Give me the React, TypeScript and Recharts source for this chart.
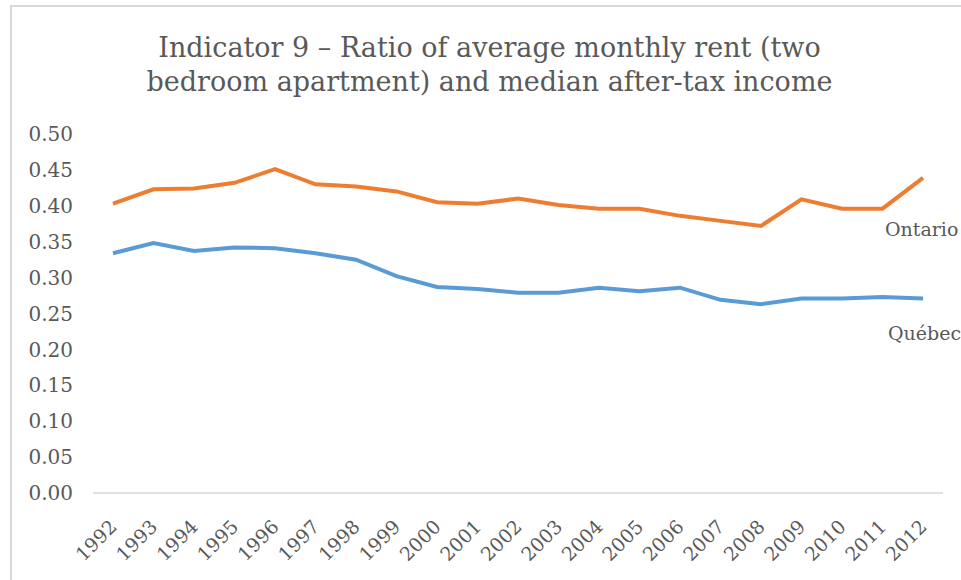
import React from 'react';
import { LineChart, Line, XAxis, YAxis, LabelList } from 'recharts';

const years = ['1992', '1993', '1994', '1995', '1996', '1997', '1998', '1999', '2000', '2001', '2002',
    '2003', '2004', '2005', '2006', '2007', '2008', '2009', '2010', '2011', '2012'];
const ontario = [0.403, 0.423, 0.424, 0.432, 0.451, 0.430, 0.427, 0.420, 0.405, 0.403, 0.410,
    0.401, 0.396, 0.396, 0.386, 0.379, 0.372, 0.409, 0.396, 0.396, 0.439];
const quebec = [0.334, 0.348, 0.337, 0.342, 0.341, 0.334, 0.325, 0.302, 0.287, 0.284, 0.279,
    0.279, 0.286, 0.281, 0.286, 0.269, 0.263, 0.271, 0.271, 0.273, 0.271];
const yTicks = [0, 0.05, 0.1, 0.15, 0.2, 0.25, 0.3, 0.35, 0.4, 0.45, 0.5];

const data = years.map((year, i) => ({ year, ontario: ontario[i], quebec: quebec[i] }));

const FONT = '"DejaVu Serif", serif';
const GREY = '#595959';

const YearTick = (props: any) => {
    const { x, y, payload } = props;
    return (
        <g transform={`translate(${x + 5},${y + 27})`}>
            <text textAnchor="end" transform="rotate(-45)" fill={GREY} fontSize={19} fontFamily={FONT}>
                {payload.value}
            </text>
        </g>
    );
};

// series name drawn only next to the last point, like Excel's data label
const endLabel = (name: string, dx: number, dy: number) => (props: any) => {
    const { x, y, index } = props;
    if (index !== years.length - 1) return null;
    return (
        <text x={x + dx} y={y + dy} fill={GREY} fontSize={19} fontFamily={FONT}>
            {name}
        </text>
    );
};

export default function App() {
    return (
        <div style={{ position: 'absolute', left: 0, top: 0, width: 961, height: 580, background: '#fff', overflow: 'hidden' }}>
            <div style={{
                position: 'absolute', left: 10, top: 5, right: -4, bottom: -4,
                borderLeft: '2px solid #d9d9d9', borderTop: '2px solid #d9d9d9'
            }} />
            <div style={{
                position: 'absolute', left: 18, width: 943, top: 31, textAlign: 'center',
                fontFamily: FONT, fontSize: 27, lineHeight: '34px', color: GREY
            }}>
                Indicator 9 – Ratio of average monthly rent (two<br />
                bedroom apartment) and median after-tax income
            </div>
            <div style={{ position: 'absolute', left: 0, top: 0 }}>
                <LineChart width={961} height={580} data={data}
                    margin={{ top: 134, right: 18, bottom: 0, left: 0 }}>
                    <XAxis dataKey="year" interval={0} height={87} padding={{ left: 20, right: 20 }}
                        axisLine={{ stroke: '#d9d9d9', strokeWidth: 1.5 }} tickLine={false} tick={<YearTick />} />
                    <YAxis domain={[0, 0.5]} ticks={yTicks} width={93} axisLine={false} tickLine={false}
                        tickSize={0} tickMargin={20} tickFormatter={(v: number) => v.toFixed(2)}
                        tick={{ fill: GREY, fontSize: 20, fontFamily: FONT }} />
                    <Line dataKey="ontario" stroke="#ED7D31" strokeWidth={4} dot={false} isAnimationActive={false}>
                        <LabelList dataKey="ontario" content={endLabel('Ontario', -38, 58)} />
                    </Line>
                    <Line dataKey="quebec" stroke="#5B9BD5" strokeWidth={4} dot={false} isAnimationActive={false}>
                        <LabelList dataKey="quebec" content={endLabel('Québec', -35, 42)} />
                    </Line>
                </LineChart>
            </div>
        </div>
    );
}
